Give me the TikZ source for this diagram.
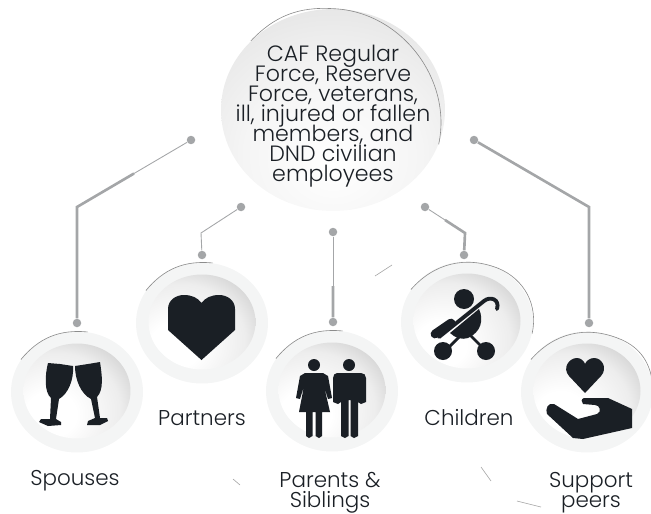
\documentclass[tikz,border=0pt]{standalone}
\usepackage{fontspec}
\setmainfont{Poppins Light}
\usetikzlibrary{calc, shapes.geometric}

\definecolor{inkdark}{HTML}{1A1F25}
\definecolor{linkgrey}{HTML}{A4A6A8}
\definecolor{ringgrey}{HTML}{F4F5F5}

\pgfdeclareradialshading{discshade}{\pgfpoint{-14bp}{-14bp}}{color(0bp)=(white); color(12bp)=(white); color(30bp)=(black!7); color(44bp)=(black!22); color(56bp)=(black!34); color(100bp)=(black!40)}
\pgfdeclareradialshading{topshade}{\pgfpoint{0bp}{-14bp}}{color(0bp)=(white); color(20bp)=(white!96!black); color(36bp)=(black!10); color(50bp)=(black!20); color(64bp)=(black!26); color(100bp)=(black!28)}

\newcommand{\labelfont}{\fontsize{12.2}{11.4}\selectfont\lineskiplimit=-10pt\relax}
\newcommand{\centrefont}{\fontsize{12.6}{11.4}\selectfont\lineskiplimit=-10pt\relax}

\tikzset{
    ring/.style={ellipse, fill=ringgrey, inner sep=0pt, minimum width=2.64cm, minimum height=2.42cm},
    disc/.style={ellipse, shading=discshade, inner sep=0pt, minimum width=2.14cm, minimum height=1.9cm},
    rim/.style={draw=black!45, line width=.35pt},
    dot/.style={circle, fill=linkgrey, inner sep=0pt, minimum size=.17cm},
    linkthin/.style={draw=linkgrey, line width=.5pt},
    linkthick/.style={draw=linkgrey, line width=1.5pt},
    label/.style={align=center, text=inkdark, font=\labelfont},
    icon/.style={fill=inkdark, draw=none},
    stray/.style={draw=black!35, line width=.35pt}
}

\begin{document}
\begin{tikzpicture}[x=.02cm, y=-.02cm]
    \useasboundingbox (0, 0) rectangle (651, 513);

    % central circle
    \node (centre_disc) at (333, 110)
        [ellipse, shading=topshade, inner sep=0pt, minimum width=4.48cm, minimum height=4.04cm]
        {};
    \node (centre_text) at (333, 116)
        [label, font=\centrefont]
        {CAF Regular\\Force, Reserve\\Force,  veterans,\\ill, injured or fallen\\members, and\\DND civilian\\employees};
    \draw [rim] (centre_disc.140) to[bend left=25] (centre_disc.90);
    \draw [rim] (centre_disc.90) to[bend left=50] (centre_disc.-18);

    % outer circles
    \node (spouses_ring) at (77, 392) [ring] {};
    \node (spouses_disc) at (77, 391) [disc] {};
    \node (partners_ring) at (202, 323) [ring] {};
    \node (partners_disc) at (202, 322) [disc] {};
    \node (parents_ring) at (332, 391) [ring] {};
    \node (parents_disc) at (332, 390) [disc] {};
    \node (children_ring) at (467, 322) [ring] {};
    \node (children_disc) at (467, 321) [disc] {};
    \node (support_ring) at (587, 392) [ring] {};
    \node (support_disc) at (587, 391) [disc] {};

    \foreach \name in {spouses, partners, parents} {
        \draw [rim] (\name_ring.150) to[bend left=28] (\name_ring.80);
    }
    \draw [rim] (children_ring.150) to[bend left=35] (children_ring.60);
    \draw [rim] (children_ring.60) to[bend left=40] (children_ring.-10);
    \draw [rim] (support_ring.150) to[bend left=35] (support_ring.60);
    \draw [rim] (support_ring.60) to[bend left=30] (support_ring.10);

    % connectors
    \node (spouses_top) at (191, 140) [dot] {};
    \coordinate (spouses_bend) at (77, 207);
    \node (spouses_end) at (77, 323) [dot] {};
    \draw [linkthin] (spouses_top) -- (spouses_bend);
    \draw [linkthick] ($(spouses_top)!.5!(spouses_bend)$) -- (spouses_bend) -- (spouses_end);

    \node (partners_top) at (241, 207) [dot] {};
    \coordinate (partners_bend) at (201, 233);
    \node (partners_end) at (202, 255) [dot] {};
    \draw [linkthin] (partners_top) -- (partners_bend) -- (partners_end);

    \node (parents_top) at (333, 232) [dot] {};
    \node (parents_end) at (333, 322) [dot] {};
    \draw [linkthin] (parents_top) -- (parents_end);
    \draw [linkthick] ($(parents_top)!.6!(parents_end)$) -- (parents_end);

    \node (children_top) at (425, 207) [dot] {};
    \coordinate (children_bend) at (465, 233);
    \node (children_end) at (464, 255) [dot] {};
    \draw [linkthin] (children_top) -- (children_bend);
    \draw [linkthick] ($(children_top)!.5!(children_bend)$) -- (children_bend) -- (children_end);

    \node (support_top) at (474, 140) [dot] {};
    \coordinate (support_bend) at (589, 207);
    \node (support_end) at (589, 323) [dot] {};
    \draw [linkthick] (support_top) -- (support_bend) -- (support_end);

    % icons
    \fill [icon] (48, 363) -- (60, 364) -- (73, 366)
        .. controls (74, 380) and (68, 394) .. (59, 399)
        -- (56, 419) -- (61, 422) -- (61, 425) -- (48, 426) -- (39, 422) -- (41, 419) -- (50, 419) -- (51, 398)
        .. controls (44, 392) and (45, 375) .. (48, 363) -- cycle;
    \fill [icon] (100, 362) -- (88, 364) -- (75, 366)
        .. controls (75, 380) and (81, 394) .. (91, 399)
        -- (95, 418) -- (88, 421) -- (87, 425) -- (100, 425) -- (108, 421) -- (107, 418) -- (100, 418) -- (97, 397)
        .. controls (104, 390) and (102, 375) .. (100, 362) -- cycle;

    \fill [icon] (201.5, 360) -- (168, 330) -- (168, 309)
        .. controls (168, 300) and (176, 295) .. (184, 295)
        .. controls (192, 295) and (198, 298) .. (201.5, 303)
        .. controls (205, 298) and (211, 295) .. (219, 295)
        .. controls (227, 295) and (235, 300) .. (235, 309)
        -- (235, 330) -- cycle;

    \fill [icon] (314, 365) circle (6);
    \fill [icon] (305, 373) -- (323, 373) -- (328, 376) -- (332, 398) -- (328, 399) -- (324, 386) -- (330, 412)
        -- (322, 412) -- (322, 436) -- (319, 438) -- (315.5, 436) -- (315.5, 412) -- (312.5, 412) -- (312.5, 436)
        -- (309, 438) -- (306, 436) -- (306, 412) -- (299, 412) -- (304, 386) -- (300, 399) -- (296, 398) -- (300, 376) -- cycle;
    \fill [icon] (349, 365) circle (6);
    \fill [icon] (337, 373) -- (361, 373) .. controls (364, 373) and (366, 375) .. (366, 378)
        -- (366, 402) -- (361, 404) -- (358, 402) -- (358, 436) -- (354, 438) -- (350.5, 436) -- (350.5, 400) -- (348.5, 400)
        -- (348.5, 436) -- (345, 438) -- (341, 436) -- (341, 402) -- (338, 404) -- (333, 402) -- (333, 378)
        .. controls (333, 375) and (335, 373) .. (337, 373) -- cycle;

    \fill [icon] (464, 299) circle (10);
    \draw [inkdark, line width=2.2pt, line cap=round] (439, 337) -- (484, 301)
        .. controls (490, 296) and (500, 299) .. (497, 309);
    \draw [inkdark, line width=5pt, line cap=round] (435, 334) -- (451, 323);
    \fill [icon] (450, 333) -- (479, 309) .. controls (484, 320) and (481, 332) .. (468, 338) .. controls (462, 340) and (455, 338) .. (450, 333) -- cycle;
    \draw [inkdark, line width=1.6pt] (460, 336) -- (449, 347);
    \draw [inkdark, line width=1.6pt] (470, 335) -- (482, 347);
    \fill [icon] (443, 351) circle (9);
    \fill [icon] (486, 351) circle (9);

    \fill [icon] (585, 393) -- (569, 376)
        .. controls (562, 368) and (569, 358) .. (577, 358)
        .. controls (581, 358) and (584, 361) .. (585, 364)
        .. controls (586, 361) and (590, 358) .. (594, 358)
        .. controls (602, 358) and (608, 368) .. (601, 376) -- cycle;
    \fill [icon] (547, 414) .. controls (545, 409) and (548, 402) .. (554, 404)
        -- (578, 419) -- (597, 414) .. controls (602, 412) and (600, 405) .. (595, 405)
        -- (583, 404) .. controls (581, 402) and (581, 399) .. (584, 398)
        -- (608, 398) -- (632, 409) -- (632, 428) -- (583, 439) -- (573, 438) -- cycle;

    % labels
    \node (spouses_label) at (75, 481) [label] {Spouses};
    \node (partners_label) at (202, 418) [label] {Partners};
    \node (parents_label) at (330, 493) [label] {Parents \&\\Siblings};
    \node (children_label) at (469, 418) [label] {Children};
    \node (support_label) at (591, 493) [label] {Support\\peers};

    % stray marks
    \draw [stray] (375, 276) -- (392, 265);
    \draw [stray] (233, 479) -- (240, 485);
    \draw [stray] (481, 467) -- (491, 481);
    \draw [stray] (517, 501) -- (541, 507);
\end{tikzpicture}
\end{document}
